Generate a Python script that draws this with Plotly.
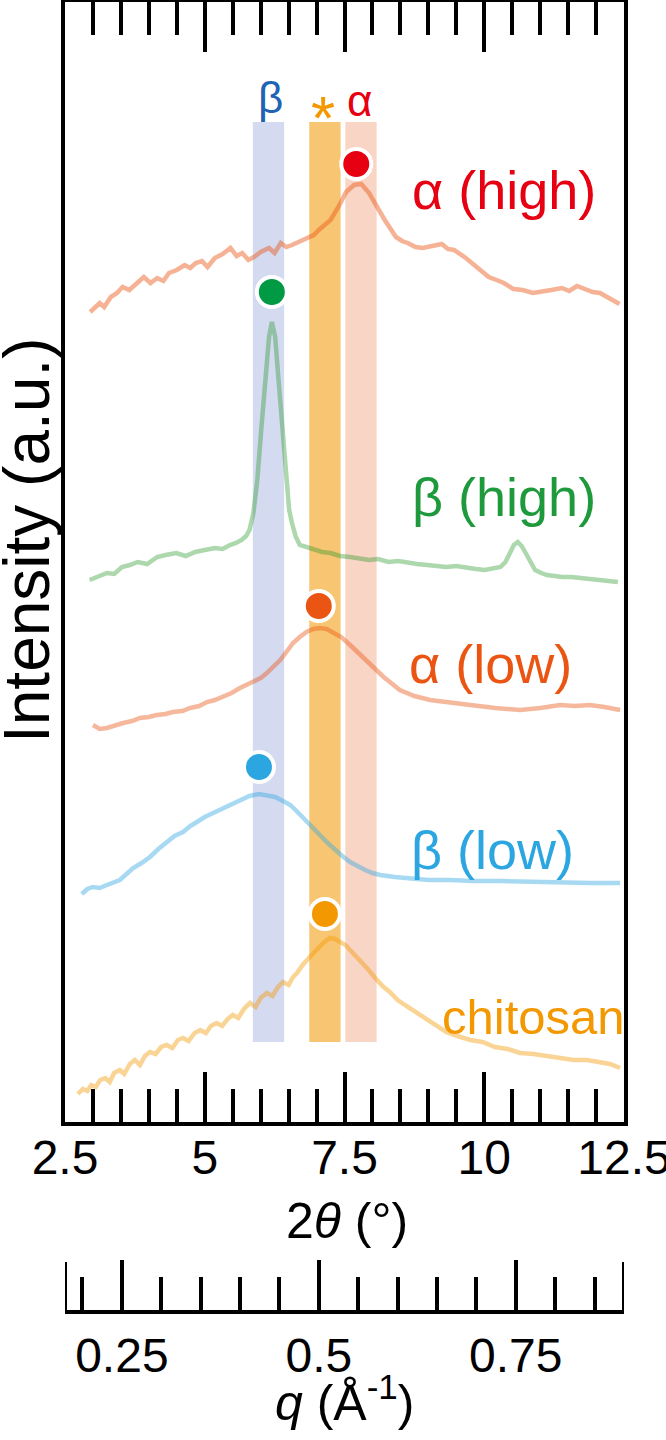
import plotly.graph_objects as go

# ---------------- data (2theta in degrees, intensity in a.u. incl. vertical offset) -------------
alpha_high_x = [2.95,3.05,3.12,3.2,3.32,3.43,3.53,3.65,3.81,3.91,4.03,4.15,4.26,4.36,4.5,4.64,4.74,4.84,4.95,5.05,
                5.18,5.32,5.46,5.57,5.67,5.78,5.88,6.0,6.15,6.25,6.36,6.46,6.56,6.7,6.84,6.95,7.04,7.15,7.25,7.39,
                7.53,7.67,7.8,7.94,8.08,8.22,8.42,8.53,8.63,8.77,8.9,9.07,9.24,9.35,9.46,9.67,9.87,10.08,10.22,10.35,
                10.52,10.69,10.87,11.04,11.2,11.39,11.52,11.66,11.8,11.94,12.07,12.21,12.32,12.42]
alpha_high_y = [810,816,819,815,825,829,835,832,840,845,839,844,841,849,852,857,854,859,861,855,
                864,868,874,866,869,862,865,870,874,869,879,875,877,881,884,887,892,897,902,915,
                930,937,938,929,915,902,885,881,879,875,874,876,878,873,872,864,855,845,842,839,
                833,832,829,830,832,834,831,836,833,830,829,825,822,818]

beta_high_x = [2.94,3.1,3.25,3.38,3.52,3.66,3.8,3.97,4.15,4.3,4.49,4.66,4.83,5.0,5.18,5.32,5.45,5.56,5.66,5.74,
               5.8,5.87,5.94,6.01,6.08,6.15,6.2,6.26,6.32,6.39,6.45,6.51,6.56,6.63,6.7,6.9,7.1,7.25,7.42,7.6,
               7.77,7.94,8.1,8.29,8.46,8.63,8.8,8.98,9.15,9.32,9.5,9.67,9.85,10.01,10.15,10.29,10.38,10.46,10.53,10.6,
               10.67,10.74,10.82,10.91,11.02,11.12,11.26,11.39,11.56,11.74,11.92,12.09,12.25,12.39]
beta_high_y = [542,546,549,548,555,557,560,558,565,567,569,566,570,572,574,573,577,579,582,586,
               592,609,642,692,742,785,800,785,742,692,642,612,599,585,577,573,570,569,566,565,
               564,562,563,560,561,559,558,557,556,555,556,554,553,552,553,555,560,569,577,580,
               576,569,560,552,549,547,546,545,545,544,542,542,541,540]

alpha_low_x = [3.0,3.12,3.25,3.4,3.54,3.7,3.84,4.0,4.14,4.3,4.43,4.6,4.74,4.9,5.04,5.18,5.33,5.48,5.63,5.75,
               5.86,6.0,6.11,6.23,6.35,6.46,6.58,6.7,6.82,6.94,7.06,7.18,7.29,7.44,7.6,7.78,7.96,8.2,8.49,8.75,
               9.03,9.4,9.75,10.2,10.64,11.0,11.36,11.62,11.89,12.15,12.43]
alpha_low_y = [397,393,394,397,399,401,404,405,407,408,410,411,414,416,420,422,425,429,434,437,
               440,444,449,455,462,470,479,485,490,493,494,493,490,485,477,467,457,445,432,426,
               422,419,417,414,412,414,417,416,417,415,412]

beta_low_x = [2.8,2.9,3.0,3.12,3.25,3.37,3.48,3.6,3.72,3.87,4.02,4.17,4.32,4.46,4.61,4.74,4.86,5.0,5.15,5.3,
              5.45,5.63,5.8,5.97,6.11,6.26,6.4,6.53,6.66,6.79,6.93,7.06,7.2,7.33,7.46,7.6,7.73,7.87,8.0,8.14,
              8.4,8.67,9.0,9.39,9.8,10.28,10.8,11.36,11.9,12.43]
beta_low_y = [228,233,235,234,237,240,242,248,254,259,265,273,280,286,290,296,300,305,309,313,
              317,322,326,328,327,325,321,317,310,302,295,287,279,272,266,260,256,252,249,247,
              245,244,242,242,241,241,240,239,239,239]

chitosan_x = [2.73,2.82,2.9,2.97,3.05,3.13,3.22,3.3,3.38,3.48,3.56,3.66,3.75,3.84,3.93,4.02,4.12,4.22,4.32,4.42,
              4.52,4.61,4.71,4.82,4.92,5.02,5.11,5.21,5.31,5.41,5.5,5.6,5.7,5.81,5.91,6.0,6.11,6.21,6.31,6.4,
              6.5,6.58,6.65,6.75,6.88,7.0,7.12,7.24,7.33,7.42,7.52,7.6,7.69,7.78,7.9,8.05,8.18,8.31,8.45,8.58,
              8.72,8.85,9.0,9.15,9.32,9.52,9.75,9.97,10.19,10.42,10.64,10.88,11.12,11.36,11.6,11.84,12.07,12.25,12.43]
chitosan_y = [28,33,31,37,35,42,44,40,49,52,48,58,62,57,66,70,68,75,77,74,
              82,84,81,89,92,89,96,99,96,103,107,104,113,119,115,124,129,126,135,140,
              137,145,149,157,165,172,179,184,183,180,177,172,167,162,154,144,136,130,122,117,
              112,107,102,97,90,86,82,80,75,73,69,68,66,64,62,62,60,58,54]

# peak markers (2theta, intensity)
peak_x = [7.71, 6.20, 7.04, 5.97, 7.15]
peak_y = [958, 830, 516, 355, 208]

# series names / labels
series_labels = ["α (high)", "β (high)", "α (low)", "β (low)", "chitosan"]
label_x = [10.36, 10.36, 10.12, 10.14, 10.88]
label_y = [932, 625, 458, 272, 105]
label_size = [54, 54, 54, 54, 49]

# highlighted bands (2theta centre), their width and vertical extent
band_names = ["β", "*", "α"]
band_centers = [6.14, 7.15, 7.795]
band_width = 0.56
band_y = [80, 1000]
band_label_x = [6.17, 7.12, 7.76]
band_label_y = [1025, 1005, 1022]
band_label_size = [44, 62, 44]

# axis ticks
x_major = [2.5, 5, 7.5, 10, 12.5]
x_major_text = ["2.5", "5", "7.5", "10", "12.5"]
q_major = [0.25, 0.5, 0.75]
q_major_text = ["0.25", "0.5", "0.75"]
q_range = [0.1778, 0.8874]   # q at 2theta = 2.5 and 12.5 deg (Cu K-alpha)

# ---------------- styles ----------------
line_colors = ["rgba(234,85,20,0.45)", "rgba(40,150,40,0.38)", "rgba(234,85,20,0.42)",
               "rgba(46,167,224,0.42)", "rgba(243,152,0,0.42)"]
dot_colors = ["#e60012", "#009944", "#ea5514", "#2ca6e0", "#f39800"]
text_colors = ["#e60012", "#1e9a3c", "#ea5514", "#2ca6e0", "#f39800"]
band_fill = ["rgba(170,182,225,0.5)", "rgba(243,152,0,0.55)", "rgba(240,150,110,0.4)"]
band_text_colors = ["#1f64b4", "#f39800", "#e60012"]

AXFONT = "Liberation Sans, Arial, sans-serif"
LBLFONT = "Liberation Sans, Arial, sans-serif"

W, H = 666, 1440
PLOT_L, PLOT_R, PLOT_T, PLOT_B = 65, 624, 2, 1122
Q_LINE = 1312
MAJOR_LEN, MINOR_LEN = 50, 33

fig = go.Figure()

curves = [(alpha_high_x, alpha_high_y), (beta_high_x, beta_high_y), (alpha_low_x, alpha_low_y),
          (beta_low_x, beta_low_y), (chitosan_x, chitosan_y)]
for (xs, ys), c, name in zip(curves, line_colors, series_labels):
    fig.add_trace(go.Scatter(x=xs, y=ys, mode="lines", line=dict(color=c, width=4.5),
                             name=name, showlegend=False, hoverinfo="skip"))

fig.add_trace(go.Scatter(x=peak_x, y=peak_y, mode="markers",
                         marker=dict(size=30, color=dot_colors, line=dict(color="white", width=4)),
                         showlegend=False, hoverinfo="skip"))

# invisible trace to activate the q axis
fig.add_trace(go.Scatter(x=q_range, y=[None, None], xaxis="x2", yaxis="y", mode="lines",
                         showlegend=False, hoverinfo="skip"))

for c, col in zip(band_centers, band_fill):
    fig.add_shape(type="rect", xref="x", yref="y", x0=c - band_width / 2, x1=c + band_width / 2,
                  y0=band_y[0], y1=band_y[1], fillcolor=col, line=dict(width=0), layer="below")

# long end ticks of the q axis
for qv in q_range:
    fig.add_shape(type="line", xref="x2", yref="paper", x0=qv, x1=qv,
                  y0=(H - Q_LINE) / H, y1=(H - Q_LINE + MAJOR_LEN) / H,
                  line=dict(color="black", width=4))

for t, x, y, col, sz in zip(band_names, band_label_x, band_label_y, band_text_colors, band_label_size):
    fig.add_annotation(x=x, y=y, xref="x", yref="y", text=t, showarrow=False,
                       font=dict(family=LBLFONT, size=sz, color=col))

for t, x, y, col, sz in zip(series_labels, label_x, label_y, text_colors, label_size):
    fig.add_annotation(x=x, y=y, xref="x", yref="y", text=t, showarrow=False,
                       font=dict(family=LBLFONT, size=sz, color=col))

# axis titles
fig.add_annotation(x=347 / W, y=(H - 1221) / H, xref="paper", yref="paper", xanchor="center",
                   yanchor="middle", text="2<i>θ</i> (°)",
                   showarrow=False, font=dict(family=AXFONT, size=50, color="black"))
fig.add_annotation(x=345 / W, y=0.005, xref="paper", yref="paper", xanchor="center",
                   yanchor="bottom", text="<i>q</i> (Å<sup>-1</sup>)",
                   showarrow=False, font=dict(family=AXFONT, size=50, color="black"))
fig.add_annotation(x=27 / W, y=(H - 540) / H, xref="paper", yref="paper", xanchor="center",
                   yanchor="middle", text="Intensity (a.u.)",
                   textangle=-90, showarrow=False, font=dict(family=AXFONT, size=64, color="black"))

fig.update_layout(
    width=W, height=H,
    margin=dict(l=0, r=0, t=0, b=0, autoexpand=False),
    paper_bgcolor="white", plot_bgcolor="white",
    xaxis=dict(domain=[PLOT_L / W, PLOT_R / W], range=[2.5, 12.5], showgrid=False, zeroline=False,
               automargin=False, ticklabeloverflow="allow", ticklabelstandoff=-10,
               showline=True, linewidth=4, linecolor="black", mirror="allticks",
               ticks="inside", ticklen=MAJOR_LEN, tickwidth=4, tickcolor="black",
               tickvals=x_major, ticktext=x_major_text,
               tickfont=dict(family=AXFONT, size=48, color="black"),
               minor=dict(dtick=0.5, tick0=2.5, ticks="inside", ticklen=MINOR_LEN, tickwidth=4,
                          tickcolor="black", showgrid=False)),
    yaxis=dict(domain=[(H - PLOT_B) / H, (H - PLOT_T) / H], range=[0, 1120], showgrid=False,
               zeroline=False, automargin=False,
               showline=True, linewidth=4, linecolor="black", mirror=True,
               ticks="", showticklabels=False),
    xaxis2=dict(overlaying="x", anchor="free", position=(H - Q_LINE) / H, side="bottom",
                range=q_range, showgrid=False, zeroline=False, automargin=False,
                ticklabeloverflow="allow",
                showline=True, linewidth=4, linecolor="black",
                ticks="inside", ticklen=MAJOR_LEN, tickwidth=4, tickcolor="black",
                tickvals=q_major, ticktext=q_major_text,
                tickfont=dict(family=AXFONT, size=48, color="black"),
                minor=dict(dtick=0.05, tick0=0, ticks="inside", ticklen=MINOR_LEN, tickwidth=4,
                           tickcolor="black", showgrid=False)),
)

fig.write_html("out.html", config={"displayModeBar": False},
               post_script="document.body.style.margin='0px';")
